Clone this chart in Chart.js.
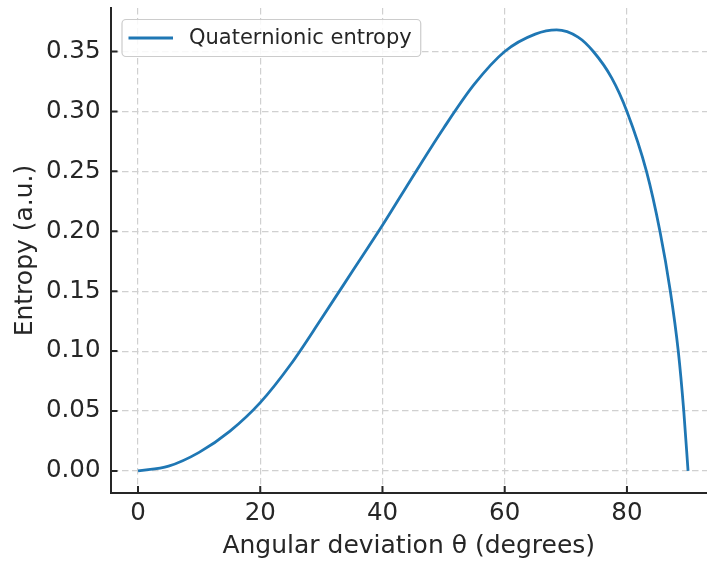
<!DOCTYPE html>
<html>
<head>
<meta charset="utf-8">
<script src="https://cdn.jsdelivr.net/npm/chart.js@4/dist/chart.umd.min.js"></script>
<style>
  html, body { margin: 0; padding: 0; background: #ffffff; overflow: hidden; }
  canvas { display: block; }
</style>
</head>
<body>
<canvas id="chart" width="707" height="563" style="width:707px;height:563px"></canvas>
<script>
// Angular deviation (degrees) and the entropy value at each sample
const thetaDeg = [0, 5, 10, 15, 20, 25, 30, 35, 40, 45, 50, 55, 60, 65, 68.5, 72, 74.5, 77.5, 80, 83.2, 85.4, 87.1, 88.4, 89.3, 90];
const entropy  = [0, 0.004, 0.0155, 0.033, 0.057, 0.089, 0.127, 0.166, 0.205, 0.246, 0.286, 0.3225, 0.350, 0.3645, 0.368, 0.362, 0.350, 0.328, 0.300, 0.250, 0.200, 0.150, 0.100, 0.050, 0];

const xTicks = [0, 20, 40, 60, 80];
const yTicks = [0, 0.05, 0.10, 0.15, 0.20, 0.25, 0.30, 0.35];

const seriesLabel = 'Quaternionic entropy';
const xTitle = 'Angular deviation θ (degrees)';
const yTitle = 'Entropy (a.u.)';

const FONT = "'DejaVu Sans', 'Liberation Sans', sans-serif";
const INK = '#262626';
const GRID = '#d0d0d0';
const LINE = '#1f77b4';

// Short tick marks pointing into the plot area
const innerTicks = {
  id: 'innerTicks',
  beforeDatasetsDraw(chart) {
    const { ctx, chartArea, scales } = chart;
    const len = 7;
    ctx.save();
    ctx.strokeStyle = INK;
    ctx.lineWidth = 2;
    ctx.beginPath();
    scales.x.ticks.forEach(t => {
      const px = scales.x.getPixelForValue(t.value);
      ctx.moveTo(px, chartArea.bottom);
      ctx.lineTo(px, chartArea.bottom - len);
    });
    scales.y.ticks.forEach(t => {
      const py = scales.y.getPixelForValue(t.value);
      ctx.moveTo(chartArea.left, py);
      ctx.lineTo(chartArea.left + len, py);
    });
    ctx.stroke();
    ctx.restore();
  }
};

// Framed legend in the upper-left corner of the plot
const boxedLegend = {
  id: 'boxedLegend',
  afterDraw(chart) {
    const { ctx, chartArea } = chart;
    const ds = chart.data.datasets[0];
    ctx.save();
    ctx.font = `21px ${FONT}`;
    const textW = ctx.measureText(ds.label).width;
    const x0 = chartArea.left + 11.5;
    const y0 = chartArea.top + 11.5;
    const w = 67 + textW + 9;
    const h = 37;
    ctx.beginPath();
    ctx.roundRect(x0, y0, w, h, 4);
    ctx.fillStyle = 'rgba(255,255,255,0.85)';
    ctx.fill();
    ctx.strokeStyle = '#cccccc';
    ctx.lineWidth = 1.2;
    ctx.stroke();
    const my = y0 + h / 2;
    ctx.beginPath();
    ctx.moveTo(x0 + 6.5, my);
    ctx.lineTo(x0 + 51, my);
    ctx.strokeStyle = ds.borderColor;
    ctx.lineWidth = ds.borderWidth;
    ctx.stroke();
    ctx.fillStyle = INK;
    ctx.textBaseline = 'middle';
    ctx.textAlign = 'left';
    ctx.fillText(ds.label, x0 + 67, my + 1);
    ctx.restore();
  }
};

new Chart(document.getElementById('chart'), {
  type: 'scatter',
  data: {
    datasets: [{
      label: seriesLabel,
      data: thetaDeg.map((t, i) => ({ x: t, y: entropy[i] })),
      showLine: true,
      borderColor: LINE,
      backgroundColor: LINE,
      borderWidth: 2.8,
      pointRadius: 0,
      cubicInterpolationMode: 'monotone',
      fill: false
    }]
  },
  options: {
    responsive: false,
    animation: false,
    devicePixelRatio: 1,
    layout: { padding: { top: 8, left: 0, right: 0, bottom: 0 } },
    plugins: {
      legend: { display: false },
      tooltip: { enabled: false }
    },
    scales: {
      x: {
        type: 'linear',
        min: -4.5,
        max: 93.1,
        afterBuildTicks: s => { s.ticks = xTicks.map(v => ({ value: v })); },
        afterFit: s => { s.height = 70; s.paddingLeft = 0; s.paddingRight = 0; },
        ticks: {
          color: INK,
          font: { family: FONT, size: 24.5 },
          padding: 6,
          maxRotation: 0,
          autoSkip: false,
          callback: v => String(v)
        },
        grid: { color: GRID, lineWidth: 1.2, drawTicks: false },
        border: { display: true, color: INK, width: 2, dash: [6.5, 3.5] },
        title: {
          display: true,
          text: xTitle,
          color: INK,
          font: { family: FONT, size: 25 },
          padding: { top: 0, bottom: 2 }
        }
      },
      y: {
        type: 'linear',
        min: -0.0184,
        max: 0.3863,
        afterBuildTicks: s => { s.ticks = yTicks.map(v => ({ value: v })); },
        afterFit: s => { s.width = 110.5; s.paddingTop = 0; s.paddingBottom = 0; },
        ticks: {
          color: INK,
          font: { family: FONT, size: 24.5 },
          padding: 10,
          autoSkip: false,
          callback: v => v.toFixed(2)
        },
        grid: { color: GRID, lineWidth: 1.2, drawTicks: false },
        border: { display: true, color: INK, width: 2, dash: [6.5, 3.5] },
        title: {
          display: true,
          text: yTitle,
          color: INK,
          font: { family: FONT, size: 25 },
          padding: { top: 10, bottom: 0 }
        }
      }
    }
  },
  plugins: [innerTicks, boxedLegend]
});
</script>
</body>
</html>
